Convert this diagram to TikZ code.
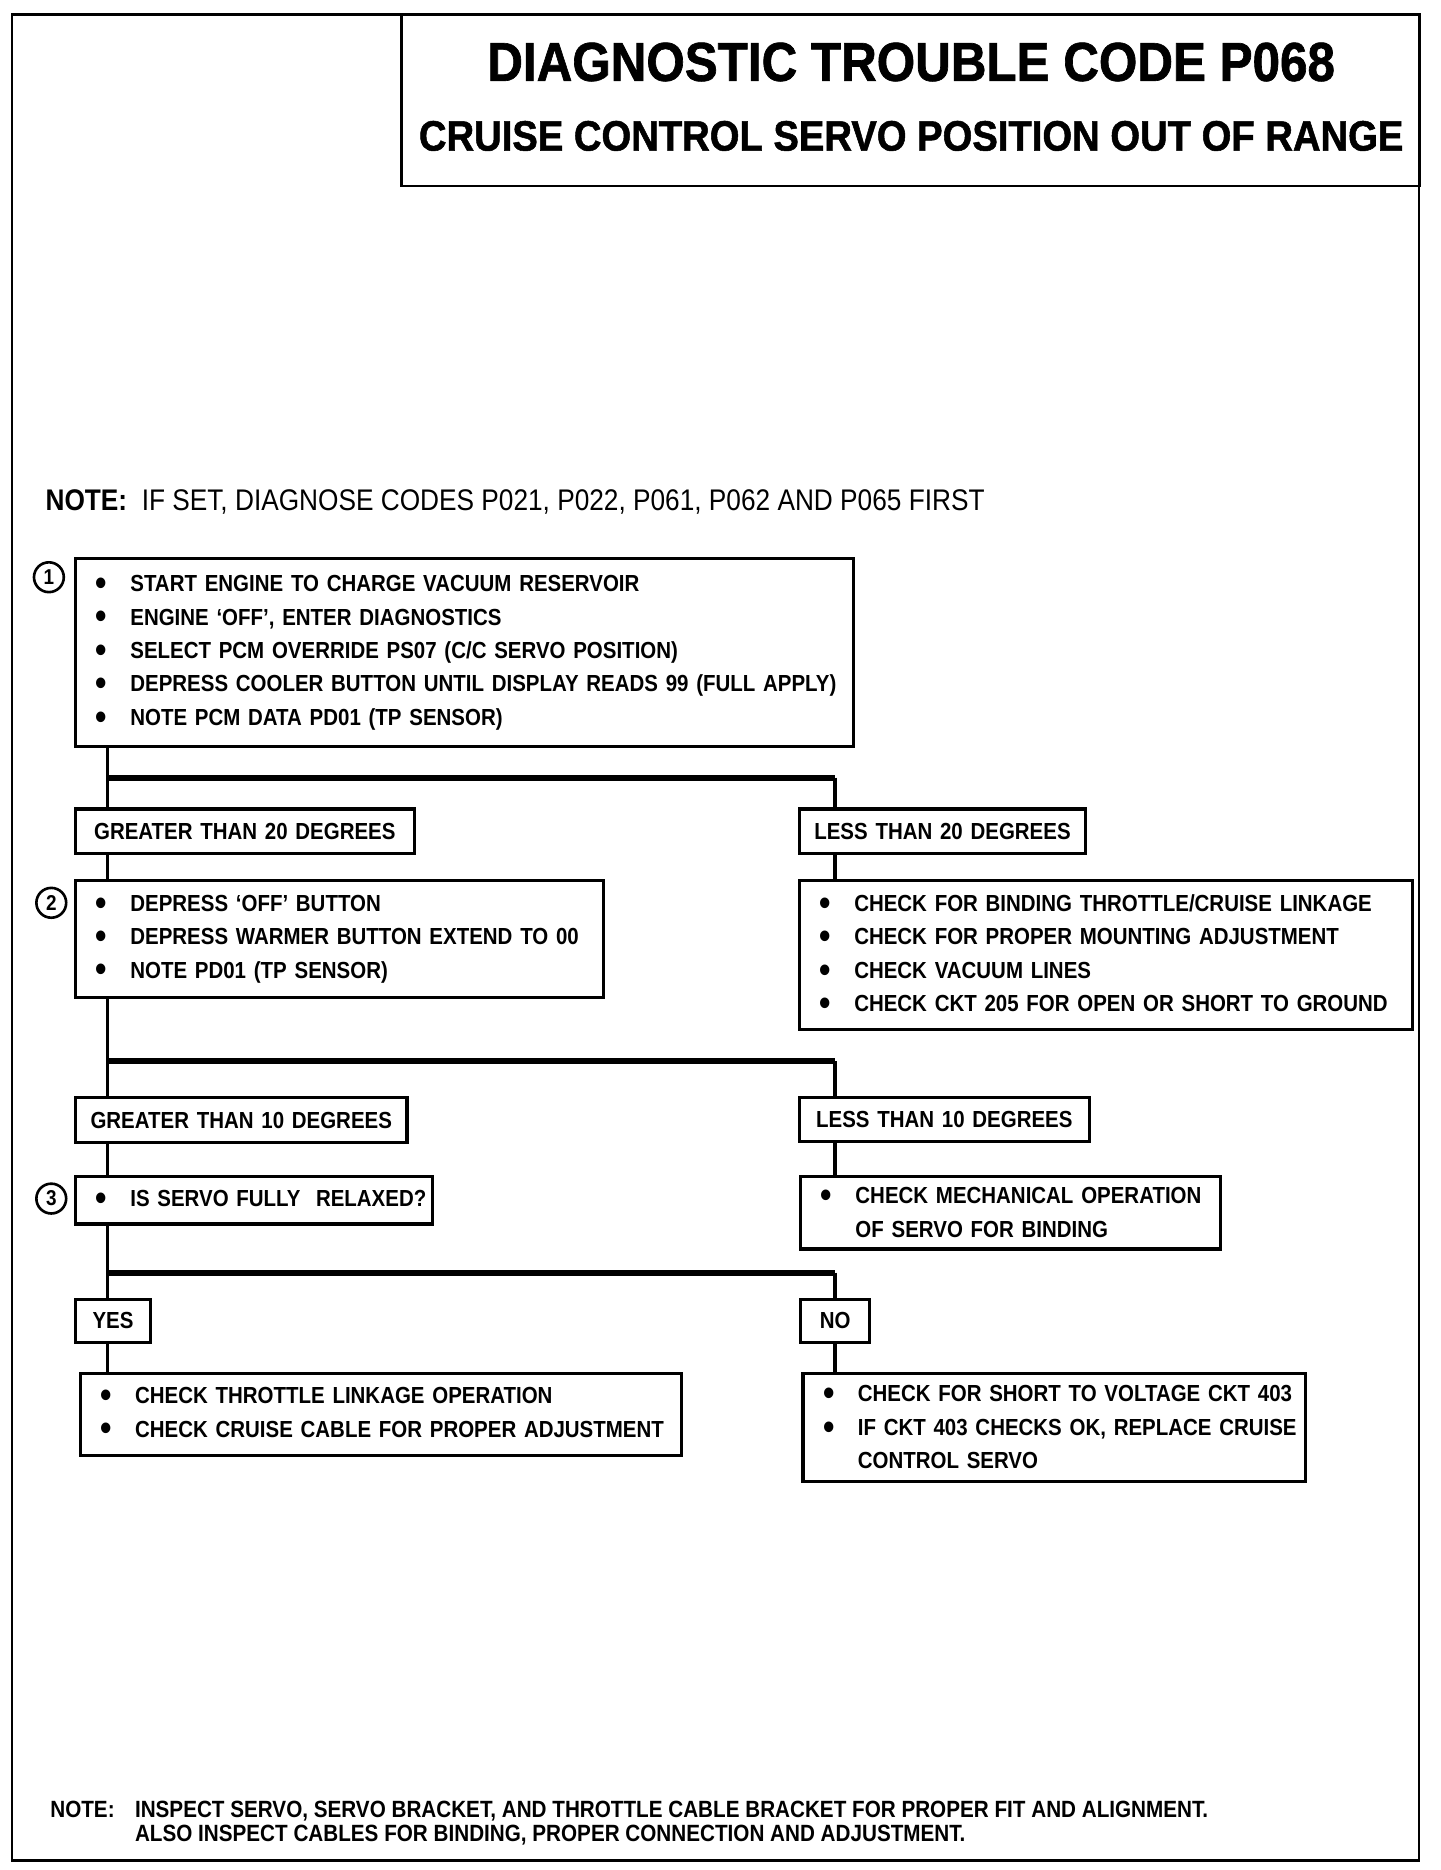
\documentclass[tikz,border=0pt]{standalone}
\usepackage{fontspec}
\setmainfont{Liberation Sans}[FakeStretch=0.88]
\newfontfamily\headfont{Liberation Sans}[FakeStretch=0.9,FakeBold=1.2]
\newcommand{\bodyfont}{\fontsize{19.5}{28}\selectfont\bfseries}
\newcommand{\bul}{\makebox[46pt][l]{\hspace*{17pt}\raisebox{-3.2pt}{\fontsize{31}{28}\selectfont\textbullet}}}
\newcommand{\cnt}{\makebox[46pt]{}}
\begin{document}
\begin{tikzpicture}[x=1pt,y=-1pt,
	stepbox/.style={draw, line width=2.6pt, anchor=north west, inner sep=0pt, align=left, font=\bodyfont},
	tagbox/.style={draw, line width=2.6pt, anchor=north west, inner sep=0pt, align=center, font=\bodyfont},
	stepno/.style={draw, circle, line width=2.2pt, inner sep=0pt, minimum size=25pt, font=\fontsize{18}{18}\selectfont\bfseries},
	trunk/.style={line width=3pt},
	bar/.style={line width=5pt}]
	\useasboundingbox (0,0) rectangle (1208,1568);
	% frame and title
	\draw [line width=2pt] (10,12) rectangle (1190,1560);
	\draw [line width=2.4pt] (337,12) rectangle (1190,156);
	\node (title) at (764,52) {\fontsize{46}{46}\selectfont\headfont\bfseries DIAGNOSTIC TROUBLE CODE P068};
	\node (subtitle) at (764,114) {\fontsize{35.6}{36}\selectfont\headfont\bfseries CRUISE CONTROL SERVO POSITION OUT OF RANGE};
	\node [anchor=west, inner sep=0pt] (note) at (38,421) {\fontsize{25}{25}\selectfont\textbf{NOTE:}\ \ IF SET, DIAGNOSE CODES P021, P022, P061, P062 AND P065 FIRST};
	% step 1
	\node [stepno] (n1) at (41,484) {1};
	\node [stepbox, text width=652pt, minimum height=158pt] (s1) at (62,467) {\bul START ENGINE TO CHARGE VACUUM RESERVOIR\\ \bul ENGINE `OFF', ENTER DIAGNOSTICS\\ \bul SELECT PCM OVERRIDE PS07 (C/C SERVO POSITION)\\ \bul DEPRESS COOLER BUTTON UNTIL DISPLAY READS 99 (FULL APPLY)\\ \bul NOTE PCM DATA PD01 (TP SENSOR)};
	\node [tagbox, text width=284pt, minimum height=37pt] (gt20) at (62,677) {GREATER THAN 20 DEGREES};
	\node [tagbox, text width=240pt, minimum height=37pt] (lt20) at (669,677) {LESS THAN 20 DEGREES};
	% step 2
	\node [stepno] (n2) at (43,757) {2};
	\node [stepbox, text width=443pt, minimum height=98pt] (s2) at (62,737) {\bul DEPRESS `OFF' BUTTON\\ \bul DEPRESS WARMER BUTTON EXTEND TO 00\\ \bul NOTE PD01 (TP SENSOR)};
	\node [stepbox, text width=514pt, minimum height=125pt] (link) at (669,737) {\bul CHECK FOR BINDING THROTTLE/CRUISE LINKAGE\\ \bul CHECK FOR PROPER MOUNTING ADJUSTMENT\\ \bul CHECK VACUUM LINES\\ \bul CHECK CKT 205 FOR OPEN OR SHORT TO GROUND};
	\node [tagbox, text width=278pt, minimum height=38pt] (gt10) at (62,919) {GREATER THAN 10 DEGREES};
	\node [tagbox, text width=243pt, minimum height=37pt] (lt10) at (669,919) {LESS THAN 10 DEGREES};
	% step 3
	\node [stepno] (n3) at (43,1005) {3};
	\node [stepbox, text width=299pt, minimum height=40pt] (s3) at (62,985) {\bul IS SERVO FULLY\ \ RELAXED?};
	\node [stepbox, text width=352pt, minimum height=61pt] (mech) at (670,985) {\bul CHECK MECHANICAL OPERATION\\ \cnt OF SERVO FOR BINDING};
	\node [tagbox, text width=63pt, minimum height=36pt] (yes) at (62,1088) {YES};
	\node [tagbox, text width=58pt, minimum height=36pt] (no) at (670,1088) {NO};
	\node [stepbox, text width=504pt, minimum height=69pt] (cable) at (66,1150) {\bul CHECK THROTTLE LINKAGE OPERATION\\ \bul CHECK CRUISE CABLE FOR PROPER ADJUSTMENT};
	\node [stepbox, text width=421pt, minimum height=91pt] (servo) at (672,1150) {\bul CHECK FOR SHORT TO VOLTAGE CKT 403\\ \bul IF CKT 403 CHECKS OK, REPLACE CRUISE\\ \cnt CONTROL SERVO};
	% connectors
	\coordinate (tx) at (90,0);
	\coordinate (bx) at (700,0);
	\coordinate (bar1) at (0,652);
	\coordinate (bar2) at (0,890);
	\coordinate (bar3) at (0,1067);
	\draw [trunk] (s1.south -| tx) -- (gt20.north -| tx);
	\draw [bar] (tx |- bar1) -- (bx |- bar1);
	\draw [trunk] (bx |- bar1) -- (lt20.north -| bx);
	\draw [trunk] (gt20.south -| tx) -- (s2.north -| tx);
	\draw [trunk] (lt20.south -| bx) -- (link.north -| bx);
	\draw [trunk] (s2.south -| tx) -- (gt10.north -| tx);
	\draw [bar] (tx |- bar2) -- (bx |- bar2);
	\draw [trunk] (bx |- bar2) -- (lt10.north -| bx);
	\draw [trunk] (gt10.south -| tx) -- (s3.north -| tx);
	\draw [trunk] (lt10.south -| bx) -- (mech.north -| bx);
	\draw [trunk] (s3.south -| tx) -- (yes.north -| tx);
	\draw [bar] (tx |- bar3) -- (bx |- bar3);
	\draw [trunk] (bx |- bar3) -- (no.north -| bx);
	\draw [trunk] (yes.south -| tx) -- (cable.north -| tx);
	\draw [trunk] (no.south -| bx) -- (servo.north -| bx);
	% footer
	\node [anchor=base west, inner sep=0pt] (fnote) at (42,1524) {\fontsize{19.7}{20}\selectfont\bfseries NOTE:};
	\node [anchor=north west, inner sep=0pt, align=left, font=\fontsize{19.7}{20}\selectfont\bfseries] (fbody) at (113,1510) {INSPECT SERVO, SERVO BRACKET, AND THROTTLE CABLE BRACKET FOR PROPER FIT AND ALIGNMENT.\\ ALSO INSPECT CABLES FOR BINDING, PROPER CONNECTION AND ADJUSTMENT.};
\end{tikzpicture}
\end{document}
